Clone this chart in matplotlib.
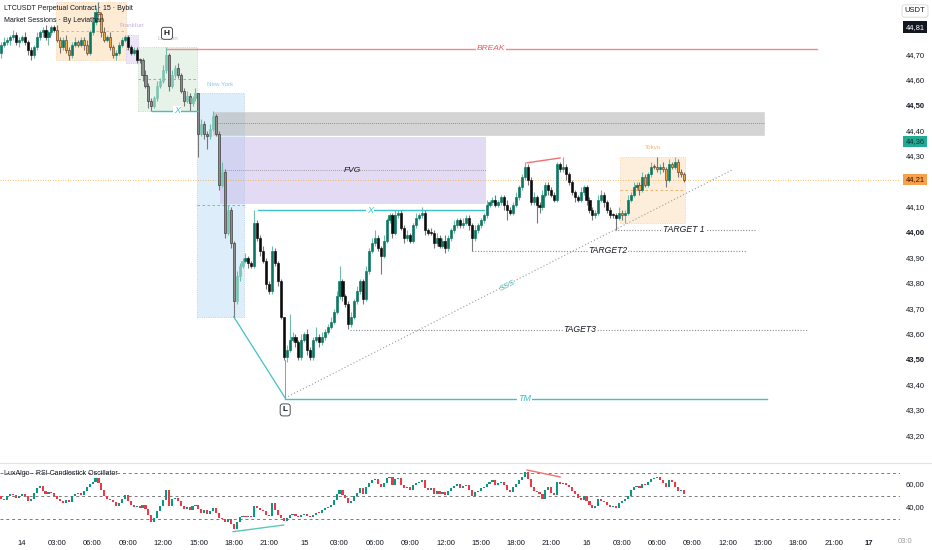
import numpy as np
import matplotlib
matplotlib.use('Agg')
from matplotlib import pyplot as plt
from matplotlib.patches import Rectangle
from matplotlib.transforms import blended_transform_factory

plt.rcParams['font.family'] = ['Liberation Sans', 'DejaVu Sans']

# 15-minute slots, counted from 14 00:00
start_slot = -7
first_open = 44.71
closes = [
    44.74, 44.75, 44.76, 44.77, 44.78, 44.75, 44.76,
    44.77, 44.75, 44.72, 44.70, 44.73, 44.77, 44.79, 44.80, 44.77, 44.79,  # 0
    44.81, 44.80, 44.76, 44.73, 44.76, 44.72, 44.70, 44.74, 44.75, 44.74,  # 10
    44.76, 44.74, 44.71, 44.79, 44.83, 44.87, 44.86, 44.79, 44.76, 44.77,  # 20
    44.73, 44.70, 44.71, 44.74, 44.76, 44.77, 44.73, 44.71, 44.72, 44.68,  # 30
    44.68, 44.62, 44.58, 44.52, 44.50, 44.53, 44.58, 44.60, 44.64, 44.70,  # 40
    44.58, 44.62, 44.65, 44.62, 44.56, 44.52, 44.54, 44.51, 44.53, 44.55,  # 50
    44.39, 44.43, 44.39, 44.38, 44.41, 44.46, 44.39, 44.19, 44.24, 44.00,  # 60
    44.09, 43.96, 43.73, 43.83, 43.87, 43.89, 43.90, 43.88, 43.87, 44.04,  # 70
    43.98, 43.93, 43.89, 43.80, 43.77, 43.93, 43.88, 43.81, 43.67, 43.51,  # 80
    43.54, 43.58, 43.59, 43.57, 43.51, 43.58, 43.60, 43.54, 43.51, 43.58,  # 90
    43.59, 43.57, 43.59, 43.61, 43.63, 43.65, 43.69, 43.75, 43.81, 43.75,  # 100
    43.72, 43.64, 43.67, 43.73, 43.77, 43.81, 43.74, 43.85, 43.93, 43.96,  # 110
    43.98, 43.94, 43.91, 43.97, 44.05, 44.07, 44.00, 44.07, 44.08, 44.02,  # 120
    43.98, 43.99, 43.97, 44.03, 44.06, 44.07, 44.08, 44.01, 44.00, 44.00,  # 130
    43.96, 43.98, 43.95, 43.97, 43.94, 43.98, 44.01, 44.03, 44.05, 44.03,  # 140
    44.04, 44.06, 44.03, 43.98, 44.01, 44.03, 44.05, 44.07, 44.11, 44.12,  # 150
    44.13, 44.11, 44.12, 44.14, 44.11, 44.09, 44.08, 44.11, 44.14, 44.18,  # 160
    44.22, 44.26, 44.21, 44.12, 44.14, 44.11, 44.10, 44.15, 44.19, 44.17,  # 170
    44.15, 44.13, 44.27, 44.25, 44.26, 44.23, 44.20, 44.16, 44.14, 44.13,  # 180
    44.16, 44.18, 44.13, 44.09, 44.07, 44.08, 44.13, 44.15, 44.12, 44.09,  # 190
    44.07, 44.07, 44.06, 44.08, 44.07, 44.08, 44.13, 44.15, 44.18, 44.19,  # 200
    44.17, 44.22, 44.19, 44.23, 44.26, 44.26, 44.25, 44.26, 44.25, 44.21,  # 210
    44.27, 44.26, 44.28, 44.24, 44.23, 44.21,  # 220
]
# wick lengths above / below the body, in cents
wick_hi = [
    1, 2, 1, 1, 2, 1, 1,
    1, 2, 1, 1, 1, 2, 1, 1, 2, 1,
    1, 1, 2, 1, 1, 2, 1, 1, 2, 1,
    1, 1, 2, 1, 2, 2, 4, 1, 2, 1,
    2, 1, 1, 1, 1, 1, 1, 1, 1, 1,
    1, 1, 2, 1, 1, 1, 2, 1, 2, 3,
    1, 2, 1, 2, 1, 1, 2, 1, 1, 2,
    0, 2, 1, 1, 2, 2, 1, 1, 4, 1,
    2, 1, 1, 2, 1, 1, 2, 1, 1, 5,
    1, 1, 2, 1, 1, 2, 1, 1, 1, 0,
    2, 10, 2, 1, 1, 2, 1, 2, 1, 1,
    4, 1, 2, 1, 1, 2, 1, 2, 6, 1,
    1, 1, 2, 1, 2, 1, 1, 2, 1, 2,
    3, 1, 1, 2, 1, 1, 1, 2, 1, 1,
    1, 2, 1, 1, 2, 1, 2, 1, 1, 2,
    1, 2, 1, 1, 2, 1, 1, 2, 1, 1,
    2, 1, 1, 1, 2, 1, 1, 1, 2, 1,
    1, 2, 1, 1, 1, 2, 1, 1, 2, 1,
    1, 2, 1, 1, 2, 1, 1, 2, 1, 1,
    1, 1, 1, 1, 4, 1, 1, 1, 1, 1,
    2, 1, 1, 1, 1, 1, 2, 2, 1, 1,
    1, 1, 1, 2, 1, 1, 2, 1, 2, 1,
    1, 2, 1, 1, 2, 1, 4, 1, 2, 1,
    2, 1, 2, 1, 1, 1,
]
wick_lo = [
    2, 1, 1, 2, 1, 1, 2,
    1, 1, 2, 2, 1, 1, 1, 2, 1, 3,
    1, 1, 1, 2, 1, 1, 2, 1, 1, 1,
    1, 2, 1, 1, 1, 1, 1, 2, 1, 1,
    1, 1, 2, 1, 1, 1, 1, 1, 1, 1,
    1, 2, 1, 3, 2, 1, 1, 1, 1, 1,
    2, 1, 1, 1, 1, 2, 1, 3, 1, 1,
    9, 1, 2, 5, 1, 1, 1, 2, 1, 2,
    1, 2, 6, 1, 2, 1, 1, 2, 1, 1,
    1, 2, 1, 2, 1, 1, 1, 2, 1, 1,
    2, 1, 1, 2, 1, 1, 1, 2, 1, 1,
    1, 2, 1, 1, 1, 1, 1, 1, 1, 2,
    1, 2, 1, 1, 1, 1, 2, 1, 1, 1,
    1, 1, 7, 1, 1, 1, 2, 1, 1, 1,
    2, 1, 1, 1, 1, 1, 1, 2, 1, 1,
    2, 1, 1, 1, 2, 1, 1, 1, 1, 1,
    1, 1, 2, 5, 1, 1, 1, 1, 1, 1,
    1, 1, 1, 1, 2, 4, 1, 1, 1, 1,
    1, 1, 2, 1, 1, 7, 2, 1, 1, 2,
    1, 1, 1, 1, 1, 2, 1, 1, 2, 1,
    1, 1, 2, 1, 2, 1, 1, 1, 2, 1,
    1, 1, 5, 1, 2, 3, 1, 1, 1, 1,
    2, 1, 1, 1, 1, 1, 1, 2, 1, 3,
    1, 1, 1, 2, 1, 1,
]
rsi_first_open = 50
rsi_close = [
    48, 47, 50, 52, 51, 49, 50,
    52, 50, 46, 48, 53, 57, 59, 55, 52, 54,
    53, 50, 48, 46, 44, 47, 45, 50, 52, 53,
    51, 55, 58, 61, 63, 66, 62, 56, 50, 48,
    47, 45, 42, 44, 48, 51, 46, 43, 41, 42,
    40, 43, 39, 34, 28, 31, 37, 42, 47, 56,
    42, 48, 49, 46, 42, 39, 41, 38, 42, 43,
    39, 36, 38, 35, 37, 40, 36, 31, 30, 28,
    30, 26, 22, 28, 32, 33, 32, 33, 32, 42,
    40, 38, 37, 34, 33, 44, 38, 34, 31, 29,
    31, 34, 35, 33, 32, 34, 35, 33, 32, 34,
    36, 36, 38, 40, 41, 43, 47, 52, 56, 51,
    49, 44, 46, 50, 53, 57, 52, 58, 62, 64,
    65, 61, 58, 62, 66, 67, 60, 65, 66, 60,
    57, 58, 56, 60, 62, 63, 64, 57, 56, 57,
    52, 55, 52, 54, 51, 55, 57, 59, 61, 57,
    59, 60, 56, 50, 54, 55, 57, 58, 61, 63,
    64, 60, 62, 63, 60, 56, 54, 58, 61, 64,
    67, 71, 65, 58, 55, 54, 52, 48, 56, 58,
    53, 51, 63, 61, 62, 60, 58, 55, 52, 49,
    47, 50, 46, 43, 40, 42, 48, 46, 45, 43,
    41, 42, 40, 44, 46, 48, 50, 56, 58, 59,
    57, 61, 60, 63, 65, 66, 67, 64, 62, 58,
    64, 63, 58, 55, 56, 52,
]

session_names = ['', 'Frankfurt', 'London', 'New York', 'Tokyo']
session_start = [12, 36, 40, 60, 204]
session_end = [35, 39, 59, 75, 225]
session_face = ['#fdebd4', '#ece5f8', '#e7f2e8', '#ddedfa', '#fdeedb']
session_edge = ['#f8cc95', '#cbbcef', '#b5d6b8', '#a6cdee', '#f8cc95']
session_text = ['#f0b070', '#c3aee6', '#a9c6b0', '#8ec6ee', '#f4b26a']
session_mid = ['#f0a860', '#b0a0d0', '#a0a0a0', '#45c0c8', '#f0a860']
session_candles = ['orange', 'plain', 'gray', 'gray', 'orange']

last_price = 44.21
label_36 = 44.36
label_81 = 44.81
break_level = 44.725
zone_top, zone_bot = 44.476, 44.386
fvg_top, fvg_bot = 44.378, 44.114
x_level = 44.09
tm_level = 43.346
target_names = ['TARGET 1', 'TARGET2', 'TAGET3']
target_levels = [44.012, 43.93, 43.618]
target_from = [201.7, 153.0, 111.6]
target_to = [249.3, 246.6, 267.0]
target_text_at = [225.2, 199.3, 189.8]
swing_low_slot, swing_low = 89.5, 43.35
sss_end_slot, sss_end = 241.5, 44.248

teal = '#3fc1c9'
ink = '#131722'

c = np.array(closes)
o = np.r_[first_open, c[:-1]]
t = np.arange(len(c)) + start_slot
hi = np.maximum(o, c) + np.array(wick_hi) / 100
lo = np.minimum(o, c) - np.array(wick_lo) / 100
up = c > o

fig = plt.figure(figsize=(9.32, 5.5), dpi=100)
ax = fig.add_axes([0, 87 / 550, 900 / 932, 463 / 550])
ax_r = fig.add_axes([0, 16 / 550, 900 / 932, 70 / 550])
for a in (ax, ax_r):
    for s in a.spines.values():
        s.set_visible(False)
    a.set_xlim(-7.48, 298.6)
ax.set_ylim(43.094, 44.917)
ax.set_xticks([])
ax.set_yticks([])
ax_r.set_ylim(17.39, 78.26)
ax_r.set_yticks([])

# session boxes
for i, name in enumerate(session_names):
    m = (t >= session_start[i]) & (t <= session_end[i])
    top, bot = hi[m].max(), lo[m].min()
    x0, x1 = session_start[i] - 0.5, session_end[i] + 0.5
    ax.add_patch(Rectangle((x0, bot), x1 - x0, top - bot, fc=session_face[i],
                           ec=session_edge[i], lw=0.6, ls=':', zorder=0))
    ax.plot([x0, x1], [(top + bot) / 2] * 2, color=session_mid[i], lw=0.6,
            ls=(0, (3, 3)), zorder=1)
    if name:
        ax.text((x0 + x1) / 2, top + 0.035, name, ha='center', va='center',
                fontsize=4.5, color=session_text[i], zorder=5)

# supply zone and FVG
ax.add_patch(Rectangle((65, zone_bot), 252.4 - 65, zone_top - zone_bot, fc='#b8b8b8',
                       alpha=0.6, ec='#c8c8c8', lw=0.5, zorder=1))
ax.plot([65, 252.4], [(zone_top + zone_bot) / 2] * 2, color='#777777', lw=0.6, ls=(0, (1, 1.5)), zorder=2)
ax.add_patch(Rectangle((67.3, fvg_bot), 157.8 - 67.3, fvg_top - fvg_bot, fc='#c8b8ea',
                       alpha=0.5, ec='none', zorder=1))
fvg_mid = (fvg_top + fvg_bot) / 2
ax.plot([67.3, 157.8], [fvg_mid] * 2, color='#8a8a8a', lw=0.6, ls=(0, (1, 1.5)), zorder=2)
ax.text(112.2, fvg_mid, 'FVG', ha='center', va='center', fontsize=6, style='italic',
        color=ink, zorder=6)

# candles
kind = np.array(['plain'] * len(c), dtype=object)
for i in range(len(session_names)):
    kind[(t >= session_start[i]) & (t <= session_end[i])] = session_candles[i]
body_up = {'plain': '#0b7762', 'gray': '#7cc4b2', 'orange': '#0b7762'}
body_dn = {'plain': '#0d0d0d', 'gray': '#8c8c8c', 'orange': '#f6a23e'}
edge_dn = {'plain': '#0d0d0d', 'gray': '#333333', 'orange': '#5a3e22'}
wick_col = np.where(up, '#6fbcab', '#777777')
ax.vlines(t, lo, hi, colors=wick_col, lw=0.8, zorder=3)
body_b = np.minimum(o, c)
body_h = np.maximum(np.abs(c - o), 0.004)
fc = [body_up[k] if u else body_dn[k] for k, u in zip(kind, up)]
ec = [body_up[k] if u else edge_dn[k] for k, u in zip(kind, up)]
ax.bar(t, body_h, bottom=body_b, width=0.72, color=fc, edgecolor=ec, lw=0.45, zorder=4)

# levels and structure lines
box = dict(fc='white', ec='none', pad=0.6)
ax.plot([49.3, 270.4], [break_level] * 2, color='#f28a8a', lw=1, zorder=5)
ax.text(159.5, break_level, 'BREAK', ha='center', va='center', fontsize=6, style='italic',
        color='#f05a5a', bbox=box, zorder=6)
london_low = lo[(t >= 40) & (t <= 59)].min()
ax.plot([44.2, 60], [london_low] * 2, color=teal, lw=1, zorder=5)
ax.text(52.7, london_low, 'X', ha='center', va='center', fontsize=6.5, style='italic',
        color=teal, bbox=box, zorder=6)
ax.plot([80.3, 157.1], [x_level] * 2, color=teal, lw=1, zorder=5)
ax.text(118.4, x_level, 'X', ha='center', va='center', fontsize=6.5, style='italic',
        color=teal, bbox=box, zorder=6)
ax.plot([swing_low_slot, 253.4], [tm_level] * 2, color=teal, lw=1, zorder=5)
ax.text(171, tm_level, 'TM', ha='center', va='center', fontsize=6.5, style='italic',
        color=teal, bbox=box, zorder=6)
ny = (t >= 60) & (t <= 75)
ny_low_slot = t[ny][np.argmin(lo[ny])]
ny_low = lo[ny].min()
ax.plot([ny_low_slot, swing_low_slot], [ny_low, swing_low], color=teal, lw=0.9, zorder=5)
ax.plot([swing_low_slot, swing_low_slot], [swing_low, lo[t == 89][0]], color=teal, lw=0.7, zorder=5)
ax.plot([swing_low_slot, sss_end_slot], [swing_low, sss_end], color='#9a9a9a', lw=0.8,
        ls=(0, (1, 2)), zorder=5)
ax.text(165.3, 43.79, 'SSS', ha='center', va='center', fontsize=6, style='italic',
        color='#3fb8b8', rotation=27, zorder=6)
for name, lvl, a0, a1, tx in zip(target_names, target_levels, target_from, target_to, target_text_at):
    ax.plot([a0, a1], [lvl] * 2, color='#8a8a8a', lw=0.8, ls=(0, (1, 1.5)), zorder=5)
    ax.text(tx, lvl, name, ha='center', va='center', fontsize=6.2, style='italic',
            color=ink, bbox=box, zorder=6)
ax.plot([171.8, 183], [44.276, 44.295], color='#f07070', lw=1, zorder=5)
label_box = dict(boxstyle='round,pad=0.3', fc='white', ec='#333333', lw=0.6)
ax.text(49.3, 44.786, 'H', ha='center', va='center', fontsize=6, weight='bold',
        color=ink, bbox=label_box, zorder=7)
ax.text(swing_low_slot, 43.303, 'L', ha='center', va='center', fontsize=6, weight='bold',
        color=ink, bbox=label_box, zorder=7)
ax.axhline(last_price, color='#f7a53c', lw=0.6, ls=(0, (1, 2)), zorder=2)

# price scale
tr = blended_transform_factory(ax.transAxes, ax.transData)
for p in np.arange(43.2, 44.75, 0.1):
    p = round(p, 1)
    if p == 44.2:
        continue  # hidden under the last price tag
    ax.text(1.0167, p, f'{p:.2f}'.replace('.', ','), transform=tr, ha='center', va='center',
            fontsize=5.5, color=ink, weight='bold' if p in (44.5, 44.0, 43.5) else 'normal',
            clip_on=False)
for val, bg, fg in [(label_81, '#131722', 'white'), (label_36, '#22ab94', '#12332e'),
                    (last_price, '#f7a14a', '#3a1200')]:
    ax.text(1.0167, val, f'{val:.2f}'.replace('.', ','), transform=tr, ha='center',
            va='center', fontsize=5.5, color=fg, clip_on=False, zorder=8,
            bbox=dict(boxstyle='square,pad=0.3', fc=bg, ec='none'))
fig.text(915 / 932, 1 - 11 / 550, 'USDT', ha='center', va='center', fontsize=5.5, color=ink,
         bbox=dict(boxstyle='round,pad=0.35', fc='white', ec='#d6d6d6', lw=0.6))

fig.text(4 / 932, 1 - 8 / 550, 'LTCUSDT Perpetual Contract · 15 · Bybit', ha='left',
         va='center', fontsize=5.0, color=ink)
fig.text(4 / 932, 1 - 20 / 550, 'Market Sessions · By Leviathan', ha='left', va='center',
         fontsize=5.0, color=ink)

# RSI pane
rc = np.array(rsi_close, dtype=float)
ro = np.r_[rsi_first_open, rc[:-1]]
rup = rc > ro
ax_r.bar(t, np.maximum(np.abs(rc - ro), 0.4), bottom=np.minimum(ro, rc), width=0.72,
         color=np.where(rup, '#089981', '#f23645'), lw=0, zorder=3)
for lvl in (70, 50, 30):
    ax_r.axhline(lvl, color='#7a7a7a', lw=0.7, ls=(0, (3, 3)), zorder=1)
ax_r.plot([71.8, 89], [19.4, 25.2], color='#5cc8b8', lw=1, zorder=4)
ax_r.plot([171.8, 183], [73, 67], color='#f07070', lw=1, zorder=4)
tr_r = blended_transform_factory(ax_r.transAxes, ax_r.transData)
ax_r.text(4 / 900, 70, 'LuxAlgo - RSI Candlestick Oscillator', transform=tr_r,
          ha='left', va='center', fontsize=5.0, color=ink, zorder=5)
for v in (60, 40):
    ax_r.text(1.0167, v, f'{v},00', transform=tr_r, ha='center', va='center', fontsize=5.5,
              color=ink, clip_on=False)
fig.add_artist(plt.Line2D([0, 1], [1 - 463 / 550] * 2, color='#e0e3eb', lw=0.8))

ticks = list(range(0, 289, 12))
labels = []
for k in ticks:
    hour = (k // 4) % 24
    labels.append(str(14 + k // 96) if hour == 0 else f'{hour:02d}:00')
ax_r.set_xticks(ticks)
ax_r.set_xticklabels(labels, fontsize=5.5, color=ink)
ax_r.tick_params(axis='x', length=0, pad=4)
for lab in ax_r.get_xticklabels():
    if lab.get_text() == '17':
        lab.set_fontweight('bold')
fig.text(905 / 932, 1 - 541.5 / 550, '03:0', ha='center', va='center', fontsize=5.5,
         color='#9a9a9a')

fig.savefig('out.png', dpi=100)
